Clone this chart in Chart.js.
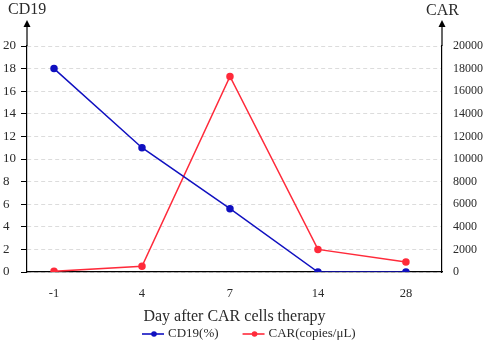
<!DOCTYPE html>
<html><head><meta charset="utf-8">
<script src="https://cdn.jsdelivr.net/npm/chart.js@4/dist/chart.umd.min.js"></script>
<style>html,body{margin:0;padding:0;background:#fff}#wrap{width:484px;height:344px}</style>
</head><body><div id="wrap"><canvas id="c" width="484" height="344"></canvas></div>
<script>
const categories = ['-1', '4', '7', '14', '28'];
const cd19 = [18, 11, 5.6, 0, 0];
const car = [60, 500, 17300, 2000, 880];
const leftTicks = [0, 2, 4, 6, 8, 10, 12, 14, 16, 18, 20];
const rightTicks = [0, 2000, 4000, 6000, 8000, 10000, 12000, 14000, 16000, 18000, 20000];

const BLUE = '#1010c0', RED = '#ff2a3a';
const FONT = '"Liberation Serif", "DejaVu Serif", serif';
const TXT = '#2a2a2a';

const deco = {
  id: 'deco',
  afterDraw(chart) {
    const ctx = chart.ctx, a = chart.chartArea;
    ctx.save();
    // axis arrows
    ctx.strokeStyle = '#000'; ctx.fillStyle = '#000'; ctx.lineWidth = 1.2;
    [a.left, a.right].forEach(x => {
      ctx.beginPath(); ctx.moveTo(x, a.top); ctx.lineTo(x, 26); ctx.stroke();
      ctx.beginPath(); ctx.moveTo(x, 20); ctx.lineTo(x - 3.5, 27); ctx.lineTo(x + 3.5, 27); ctx.closePath(); ctx.fill();
    });
    // axis titles
    ctx.font = '16px ' + FONT; ctx.textBaseline = 'alphabetic'; ctx.fillStyle = TXT;
    ctx.textAlign = 'left';
    ctx.fillText('CD19', 8, 14);
    ctx.textAlign = 'right';
    ctx.fillText('CAR', 459, 15);
    // legend
    const items = chart.data.datasets.map(d => ({ text: d.label, color: d.borderColor }));
    ctx.font = '13px ' + FONT; ctx.textAlign = 'left'; ctx.textBaseline = 'middle';
    const y = 334, iconW = 22, gapIcon = 4, gapItem = 24;
    let x = 142;
    items.forEach((it, i) => {
      if (i) x += gapItem;
      ctx.strokeStyle = it.color; ctx.fillStyle = it.color; ctx.lineWidth = 1.6;
      ctx.beginPath(); ctx.moveTo(x, y); ctx.lineTo(x + iconW, y); ctx.stroke();
      ctx.beginPath(); ctx.arc(x + iconW / 2 + 1, y, 2.8, 0, Math.PI * 2); ctx.fill();
      x += iconW + gapIcon;
      ctx.fillStyle = TXT;
      ctx.fillText(it.text, x, y);
      x += ctx.measureText(it.text).width;
    });
    ctx.restore();
  }
};

new Chart(document.getElementById('c'), {
  type: 'line',
  data: {
    datasets: [
      { label: 'CD19(%)', data: cd19.map((v, i) => ({ x: i, y: v })), yAxisID: 'y',
        borderColor: BLUE, backgroundColor: BLUE, borderWidth: 1.5, pointRadius: 3, pointHoverRadius: 3,
        pointStyle: 'circle', tension: 0 },
      { label: 'CAR(copies/μL)', data: car.map((v, i) => ({ x: i, y: v })), yAxisID: 'y1',
        borderColor: RED, backgroundColor: RED, borderWidth: 1.5, pointRadius: 3, pointHoverRadius: 3,
        pointStyle: 'circle', tension: 0 }
    ]
  },
  options: {
    responsive: false, animation: false,
    layout: { padding: { top: 46, left: 3, right: 0, bottom: 18 } },
    plugins: { tooltip: { enabled: false }, legend: { display: false } },
    scales: {
      x: {
        type: 'linear', min: -0.307, max: 4.41,
        afterBuildTicks(s) { s.ticks = categories.map((c, i) => ({ value: i })); },
        afterFit(s) { s.height = 54; },
        ticks: { callback: (v) => categories[v], font: { family: FONT, size: 12.5 }, color: TXT, padding: 14, maxRotation: 0 },
        grid: { display: false, drawTicks: false },
        border: { color: '#000', width: 1.2 },
        title: { display: true, text: 'Day after CAR cells therapy', font: { family: FONT, size: 16 }, color: TXT, padding: { top: 0, bottom: 0 } }
      },
      y: {
        position: 'left', min: 0, max: 20,
        afterBuildTicks(s) { s.ticks = leftTicks.map(v => ({ value: v })); },
        afterFit(s) { s.width = 24; },
        ticks: { font: { family: FONT, size: 13 }, color: TXT, padding: 2, crossAlign: 'far' },
        grid: { color: '#dcdcdc', tickColor: '#000', tickLength: 6, lineWidth: 1 },
        border: { color: '#000', width: 1.2, dash: [4, 3] }
      },
      y1: {
        position: 'right', min: 0, max: 20000,
        afterBuildTicks(s) { s.ticks = rightTicks.map(v => ({ value: v })); },
        afterFit(s) { s.width = 42; },
        ticks: { callback: (v) => String(v), font: { family: FONT, size: 12 }, color: TXT, padding: 11 },
        grid: { drawOnChartArea: false, drawTicks: false },
        border: { color: '#000', width: 1.2 }
      }
    }
  },
  plugins: [deco]
});
</script></body></html>
